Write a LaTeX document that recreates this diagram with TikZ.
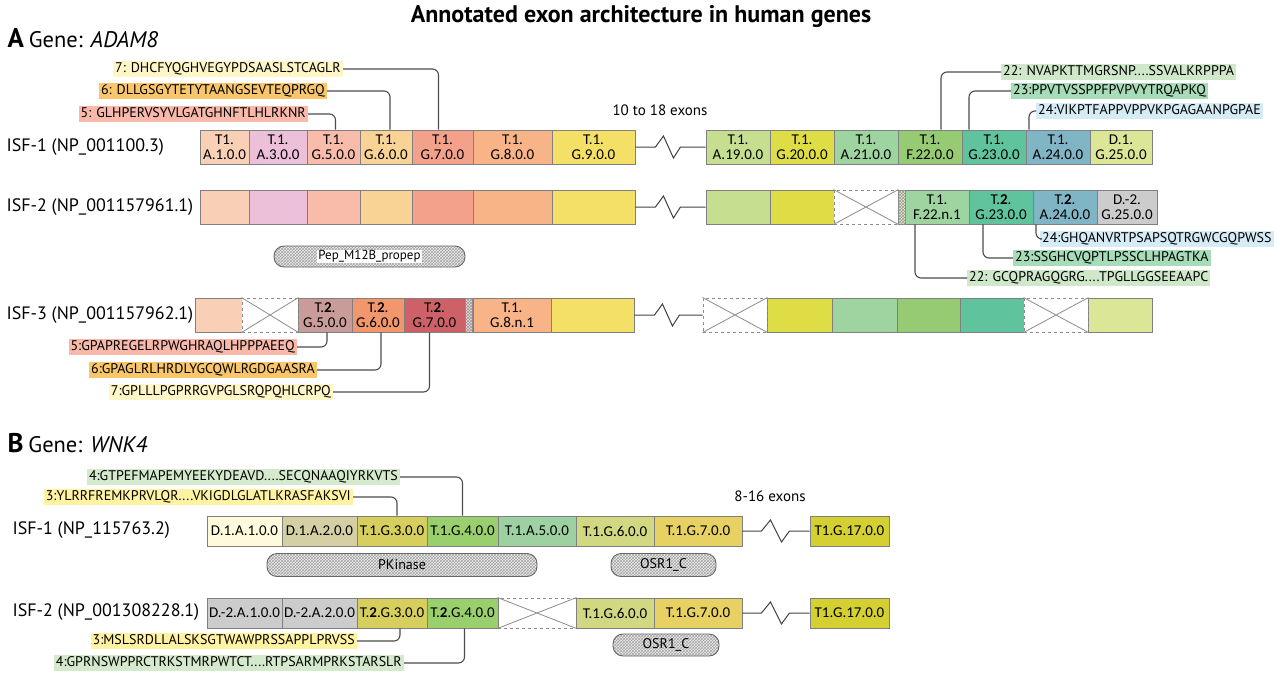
\documentclass[tikz,border=0pt]{standalone}
\usepackage{fontspec}
\setmainfont{PT Sans}
\newfontfamily\exfont{Carlito}
\usetikzlibrary{patterns}

% exon fills
\definecolor{cA1}{HTML}{F9D0B5}
\definecolor{cA3}{HTML}{EDC0DA}
\definecolor{cG5}{HTML}{F9BCAA}
\definecolor{cG6}{HTML}{F9D296}
\definecolor{cG7}{HTML}{F4A18C}
\definecolor{cG8}{HTML}{F8B487}
\definecolor{cG9}{HTML}{F4E066}
\definecolor{cA19}{HTML}{C6DE90}
\definecolor{cG20}{HTML}{DEDD45}
\definecolor{cA21}{HTML}{9ED49F}
\definecolor{cF22}{HTML}{97CB73}
\definecolor{cG23}{HTML}{5FC39E}
\definecolor{cA24}{HTML}{80B5C5}
\definecolor{cG25}{HTML}{DBE697}
\definecolor{cGy}{HTML}{CCCCCC}
\definecolor{dG5}{HTML}{C99B99}
\definecolor{dG6}{HTML}{F2966B}
\definecolor{dG7}{HTML}{CE6168}
\definecolor{bA1}{HTML}{FFFADC}
\definecolor{bA2}{HTML}{D5CFA4}
\definecolor{bG3}{HTML}{D7CF5D}
\definecolor{bG4}{HTML}{99CF6D}
\definecolor{bA5}{HTML}{9ED1A1}
\definecolor{bG6}{HTML}{D2D782}
\definecolor{bG7}{HTML}{E6D162}
\definecolor{bG17}{HTML}{D4D032}
% sequence highlights
\definecolor{hYel}{HTML}{FFF6C8}
\definecolor{hOra}{HTML}{F9C66B}
\definecolor{hSal}{HTML}{F8B9AA}
\definecolor{hGrn}{HTML}{D0E8CA}
\definecolor{hTeal}{HTML}{A6DCB8}
\definecolor{hBlue}{HTML}{D5EBF6}
\definecolor{hLem}{HTML}{FFF3A1}
\definecolor{hMint}{HTML}{D5EACC}

\begin{document}
\begin{tikzpicture}[x=1pt,y=-1pt]
    \tikzset{
        exon/.style={draw=black!50, line width=0.9, align=center, inner sep=0,
                minimum height=34, font=\exfont\fontsize{15}{14.5}\selectfont},
        exonb/.style={exon, minimum height=30},
        gone/.style={draw=black!45, dashed, line width=0.9, fill=white, inner sep=0},
        slit/.style={draw=black!45, line width=0.6, inner sep=0, minimum width=7,
                minimum height=34, pattern=crosshatch, pattern color=black!40},
        seqlab/.style={font=\fontsize{14}{14}\selectfont, inner xsep=2, inner ysep=1.5,
                text height=10, text depth=3},
        isf/.style={anchor=west, font=\fontsize{18}{18}\selectfont},
        conn/.style={draw=black!70, line width=1.1, rounded corners=6},
        zig/.style={draw=black!75, line width=1},
        dombox/.style={draw=black!60, line width=0.9, rounded corners=10, inner sep=0,
                pattern=crosshatch, pattern color=black!35, preaction={fill=black!8},
                font=\fontsize{14}{14}\selectfont}
    }
    \useasboundingbox (0,0) rectangle (1280,675);

    \node[font=\bfseries\fontsize{24}{24}\selectfont] (title) at (641,17) {Annotated exon architecture in human genes};

    % ---------------- A: ADAM8 ----------------
    \node[anchor=west] (hdA) at (4,38) {{\fontsize{27}{27}\selectfont\bfseries A}\kern5pt{\fontsize{22.5}{22.5}\selectfont Gene: \itshape ADAM8}};

    \node[isf] (isfA1) at (3,147) {ISF-1 (NP\_001100.3)};
    \node[isf] (isfA2) at (3,207) {ISF-2 (NP\_001157961.1)};
    \node[isf] (isfA3) at (3,315) {ISF-3 (NP\_001157962.1)};

    % ISF-1
    \foreach \xa/\xb/\col/\nm/\lab in {
            200/249/cA1/a1/{T1.\\A.1.0.0}, 249/307/cA3/a3/{T.1.\\A.3.0.0},
            307/360/cG5/g5/{T.1.\\G.5.0.0}, 360/412/cG6/g6/{T.1.\\G.6.0.0},
            412/473/cG7/g7/{T.1.\\G.7.0.0}, 473/552/cG8/g8/{T.1.\\G.8.0.0},
            552/635/cG9/g9/{T.1.\\G.9.0.0}, 706/770/cA19/a19/{T.1.\\A.19.0.0},
            770/834/cG20/g20/{T.1.\\G.20.0.0}, 834/898/cA21/a21/{T.1.\\A.21.0.0},
            898/962/cF22/f22/{T.1.\\F.22.0.0}, 962/1026/cG23/g23/{T.1.\\G.23.0.0},
            1026/1090/cA24/a24/{T.1.\\A.24.0.0}, 1090/1152/cG25/g25/{D.1.\\G.25.0.0}}
        \node[exon, fill=\col, minimum width=\xb-\xa] (i1\nm) at ({(\xa+\xb)/2},147) {\lab};
    \draw[zig] (i1g9.east) -- ++(20,0) -- ++(8,-11) -- ++(10,22) -- ++(7,-11) -- (i1a19.west);
    \node[font=\fontsize{15}{15}\selectfont] (gapA) at (660,110) {10 to 18 exons};

    % ISF-2
    \foreach \xa/\xb/\col/\nm/\lab in {
            200/249/cA1/a1/{}, 249/307/cA3/a3/{}, 307/360/cG5/g5/{}, 360/412/cG6/g6/{},
            412/473/cG7/g7/{}, 473/552/cG8/g8/{}, 552/635/cG9/g9/{},
            706/770/cA19/a19/{}, 770/834/cG20/g20/{},
            905/969/cA21/f22/{T.1.\\F.22.n.1}, 969/1033/cG23/g23/{T.\textbf{2}.\\G.23.0.0},
            1033/1097/cA24/a24/{T.\textbf{2}.\\A.24.0.0}, 1097/1157/cGy/g25/{D.-2.\\G.25.0.0}}
        \node[exon, fill=\col, minimum width=\xb-\xa] (i2\nm) at ({(\xa+\xb)/2},207) {\lab};
    \node[slit, preaction={fill=cA19!55}] (i2s) at (901.5,207) {};
    \draw[zig] (i2g9.east) -- ++(20,0) -- ++(8,-11) -- ++(10,22) -- ++(7,-11) -- (i2a19.west);

    % ISF-3
    \foreach \xa/\xb/\col/\nm/\lab in {
            195/242/cA1/a1/{}, 298/352/dG5/g5/{T.\textbf{2}.\\G.5.0.0},
            352/404/dG6/g6/{T.\textbf{2}.\\G.6.0.0}, 404/465/dG7/g7/{T.\textbf{2}.\\G.7.0.0},
            473/551/cG8/g8/{T.1.\\G.8.n.1}, 551/634/cG9/g9/{},
            767/832/cG20/g20/{}, 832/897/cA21/a21/{}, 897/960/cF22/f22/{},
            960/1024/cG23/g23/{}, 1088/1152/cG25/g25/{}}
        \node[exon, fill=\col, minimum width=\xb-\xa] (i3\nm) at ({(\xa+\xb)/2},315) {\lab};
    \node[slit, preaction={fill=dG7!25}] (i3s) at (469,315) {};

    % deleted exons
    \foreach \xa/\xb/\yc/\ht/\nm in {834/898/207/34/i2d1, 242/298/315/34/i3d1,
            703/767/315/34/i3d2, 1024/1088/315/34/i3d3, 498/576/613/30/j2d1} {
        \node[gone, minimum width=\xb-\xa, minimum height=\ht] (\nm) at ({(\xa+\xb)/2},\yc) {};
        \draw[black!45, line width=0.8] (\nm.north west) -- (\nm.south east) (\nm.south west) -- (\nm.north east);
    }
    \draw[zig] (i3g9.east) -- ++(20,0) -- ++(8,-11) -- ++(10,22) -- ++(7,-11) -- (i3d2.west);

    % peptide labels, ISF-1
    \node[seqlab, fill=hYel, anchor=east] (s7) at (343,69) {7: DHCFYQGHVEGYPDSAASLSTCAGLR};
    \node[seqlab, fill=hOra, anchor=east] (s6) at (327,91) {6: DLLGSGYTETYTAANGSEVTEQPRGQ};
    \node[seqlab, fill=hSal, anchor=east] (s5) at (308,114) {5: GLHPERVSYVLGATGHNFTLHLRKNR};
    \draw[conn] (s7.east) -| ([xshift=-4]i1g7.north);
    \draw[conn] (s6.east) -| ([xshift=4]i1g6.north);
    \draw[conn] (s5.east) -| ([xshift=2]i1g5.north);

    \node[seqlab, fill=hGrn, anchor=west] (s22) at (1001,72) {22: NVAPKTTMGRSNP....SSVALKRPPPA};
    \node[seqlab, fill=hTeal, anchor=west] (s23) at (1011,91) {23:PPVTVSSPPFPVPVYTRQAPKQ};
    \node[seqlab, fill=hBlue, anchor=west] (s24) at (1036,111) {24:VIKPTFAPPVPPVKPGAGAANPGPAE};
    \draw[conn] (s22.west) -| ([xshift=11]i1f22.north);
    \draw[conn] (s23.west) -| ([xshift=-25]i1g23.north);
    \draw[conn] (s24.west) -| ([xshift=-29]i1a24.north);

    % peptide labels, ISF-2
    \node[seqlab, fill=hBlue, anchor=west] (t24) at (1040,239) {24:GHQANVRTPSAPSQTRGWCGQPWSS};
    \node[seqlab, fill=hTeal, anchor=west] (t23) at (1013,258) {23:SSGHCVQPTLPSSCLHPAGTKA};
    \node[seqlab, fill=hGrn, anchor=west] (t22) at (967,278) {22: GCQPRAGQGRG....TPGLLGGSEEAAPC};
    \draw[conn] ([xshift=-29]i2a24.south) |- (t24.west);
    \draw[conn] ([xshift=-18]i2g23.south) |- (t23.west);
    \draw[conn] ([xshift=-22]i2f22.south) |- (t22.west);

    \node[dombox, minimum width=191, minimum height=21] (pep) at (369.5,256.5)
        {\setlength\fboxsep{1pt}\colorbox{white}{\fontsize{13}{13}\selectfont Pep\_M12B\_propep}};

    % peptide labels, ISF-3
    \node[seqlab, fill=hSal, anchor=east] (u5) at (297,347) {5:GPAPREGELRPWGHRAQLHPPPAEEQ};
    \node[seqlab, fill=hOra, anchor=east] (u6) at (317,370) {6:GPAGLRLHRDLYGCQWLRGDGAASRA\ };
    \node[seqlab, fill=hYel, anchor=east] (u7) at (333,392) {7:GPLLLPGPRRGVPGLSRQPQHLCRPQ\ };
    \draw[conn] (u5.east) -| ([xshift=2]i3g5.south);
    \draw[conn] (u6.east) -| ([xshift=3]i3g6.south);
    \draw[conn] (u7.east) -| ([xshift=-5]i3g7.south);

    % ---------------- B: WNK4 ----------------
    \node[anchor=west] (hdB) at (4,443) {{\fontsize{27}{27}\selectfont\bfseries B}\kern5pt{\fontsize{22.5}{22.5}\selectfont Gene: \itshape WNK4}};

    \node[isf] (isfB1) at (9,530) {ISF-1 (NP\_115763.2)};
    \node[isf] (isfB2) at (9,612) {ISF-2 (NP\_001308228.1)};

    \foreach \xa/\xb/\col/\nm/\lab in {
            207/282/bA1/a1/{D.1.A.1.0.0}, 282/357/bA2/a2/{D.1.A.2.0.0},
            357/427/bG3/g3/{T.1.G.3.0.0}, 427/498/bG4/g4/{T.1.G.4.0.0},
            498/576/bA5/a5/{T.1.A.5.0.0}, 576/654/bG6/g6/{T.1.G.6.0.0},
            654/742/bG7/g7/{T.1.G.7.0.0}, 810/889/bG17/g17/{T1.G.17.0.0}}
        \node[exonb, fill=\col, minimum width=\xb-\xa] (j1\nm) at ({(\xa+\xb)/2},531) {\lab};
    \draw[zig] (j1g7.east) -- ++(19,0) -- ++(9,-11) -- ++(11,22) -- ++(8,-11) -- (j1g17.west);
    \node[font=\fontsize{15}{15}\selectfont] (gapB) at (770,496) {8-16 exons};

    \foreach \xa/\xb/\col/\nm/\lab in {
            207/282/cGy/a1/{D.-2.A.1.0.0}, 282/357/cGy/a2/{D.-2.A.2.0.0},
            357/427/bG3/g3/{T.\textbf{2}.G.3.0.0}, 427/498/bG4/g4/{T.\textbf{2}.G.4.0.0},
            576/654/bG6/g6/{T.1.G.6.0.0}, 654/742/bG7/g7/{T.1.G.7.0.0},
            810/889/bG17/g17/{T1.G.17.0.0}}
        \node[exonb, fill=\col, minimum width=\xb-\xa] (j2\nm) at ({(\xa+\xb)/2},613) {\lab};
    \draw[zig] (j2g7.east) -- ++(19,0) -- ++(9,-11) -- ++(11,22) -- ++(8,-11) -- (j2g17.west);

    \node[seqlab, fill=hMint, anchor=east] (v4) at (400,477) {4:GTPEFMAPEMYEEKYDEAVD....SECQNAAQIYRKVTS};
    \node[seqlab, fill=hLem, anchor=east] (v3) at (353,497) {3:YLRRFREMKPRVLQR....VKIGDLGLATLKRASFAKSVI};
    \draw[conn] (v4.east) -| (j1g4.north);
    \draw[conn] (v3.east) -| ([xshift=5]j1g3.north);

    \node[dombox, minimum width=270, minimum height=23] (pkin) at (402,565) {PKinase};
    \node[dombox, minimum width=105, minimum height=23] (osr1) at (663.5,565) {OSR1\_C};
    \node[dombox, minimum width=106, minimum height=22] (osr2) at (666,645) {OSR1\_C};

    \node[seqlab, fill=hLem, anchor=east] (w3) at (357,641) {3:MSLSRDLLALSKSGTWAWPRSSAPPLPRVSS};
    \node[seqlab, fill=hMint, anchor=east] (w4) at (404,663) {4:GPRNSWPPRCTRKSTMRPWTCT....RTPSARMPRKSTARSLR};
    \draw[conn] (w3.east) -| ([xshift=8]j2g3.south);
    \draw[conn] (w4.east) -| ([xshift=2]j2g4.south);
\end{tikzpicture}
\end{document}
